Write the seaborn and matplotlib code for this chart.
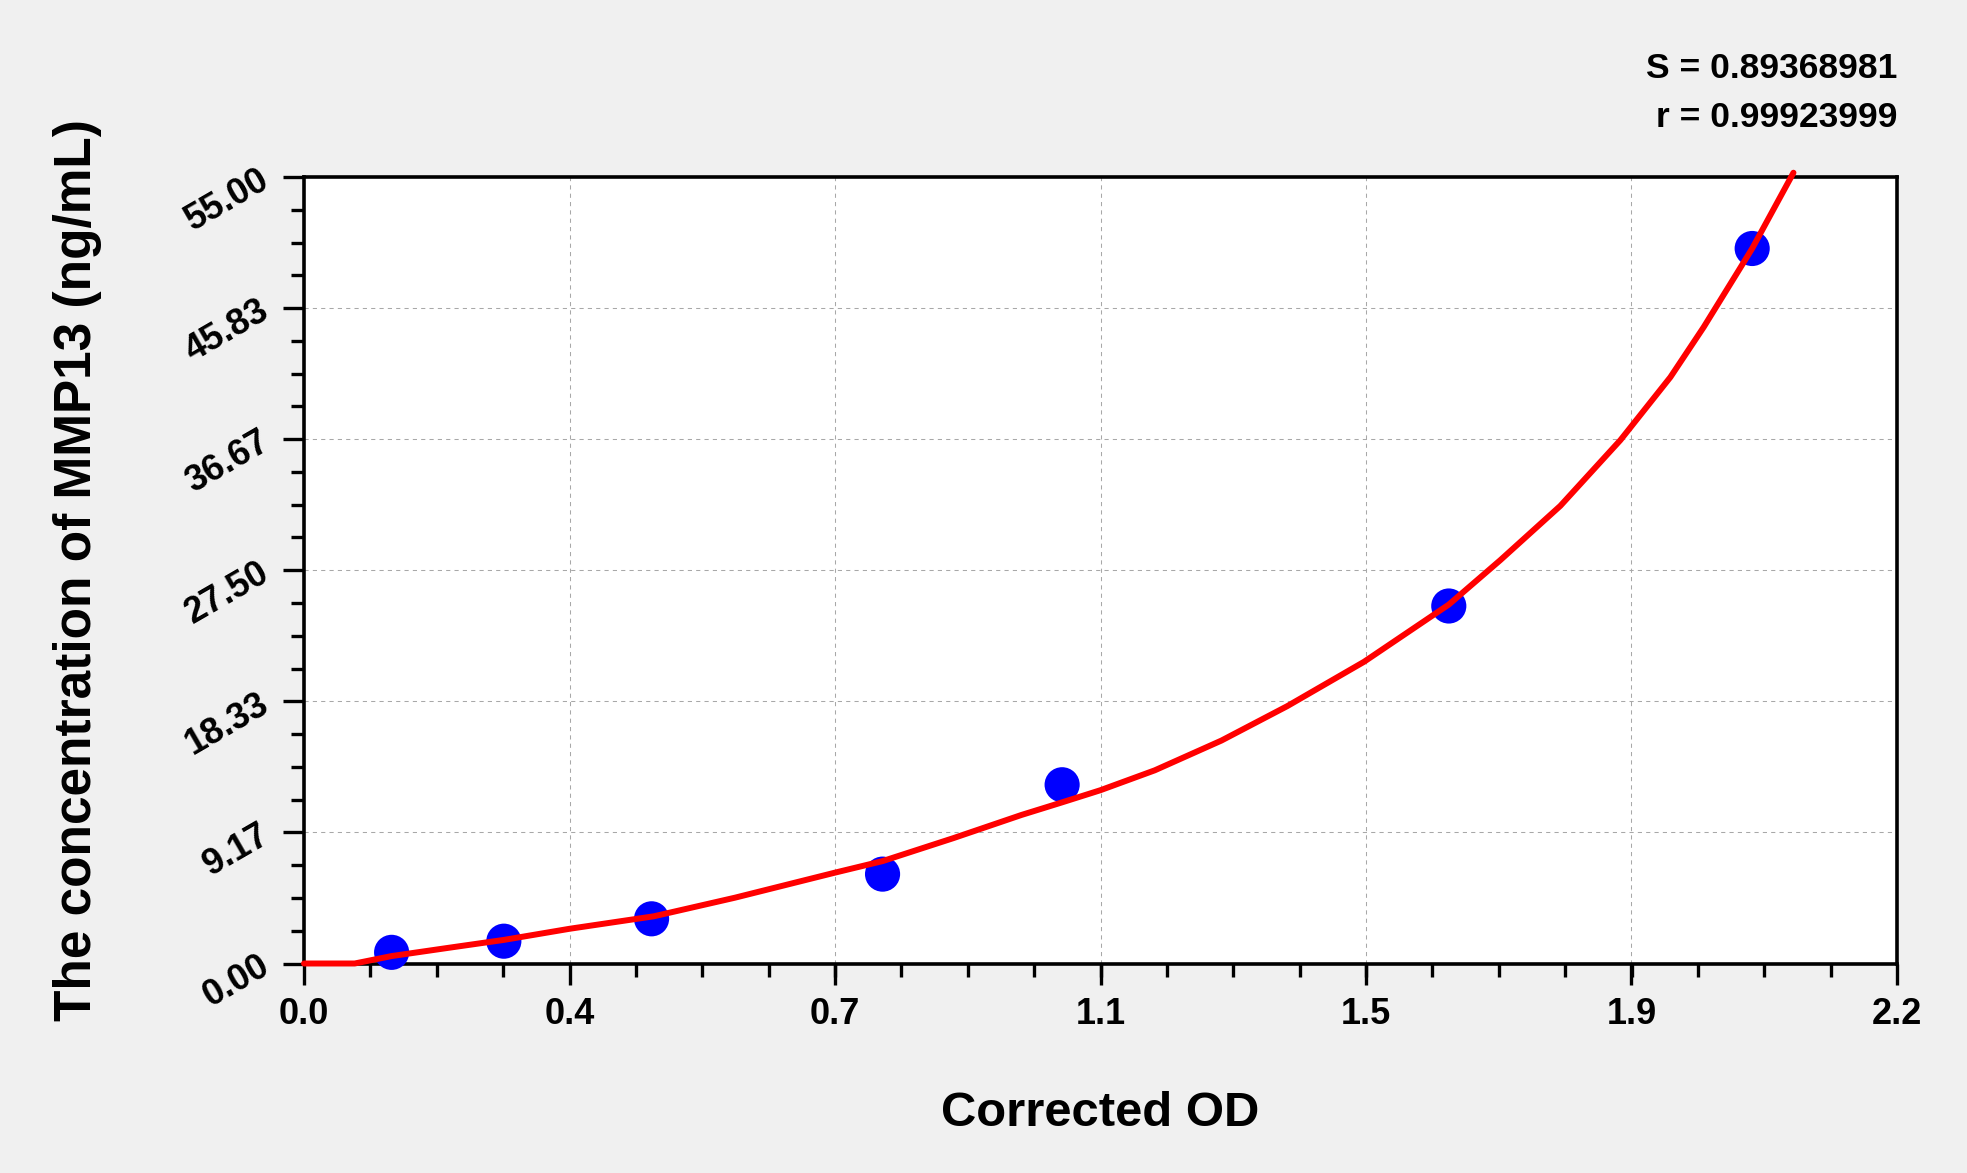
import matplotlib
matplotlib.use("Agg")
import matplotlib.pyplot as plt
import seaborn as sns
import pandas as pd
from matplotlib import font_manager as fm
from matplotlib.ticker import FixedLocator, AutoMinorLocator

# ---------------- data ----------------
od_values = [0.121, 0.276, 0.480, 0.799, 1.047, 1.581, 2.000]
concentrations = [0.78, 1.56, 3.125, 6.25, 12.5, 25.0, 50.0]

curve_od = [0.0, 0.07, 0.121, 0.20, 0.276, 0.367, 0.483, 0.595, 0.733, 0.799,
            0.897, 0.991, 1.047, 1.100, 1.175, 1.267, 1.358, 1.464, 1.581,
            1.652, 1.735, 1.818, 1.887, 1.933, 1.983, 2.000, 2.057]
curve_conc = [0.0, 0.0, 0.52, 1.10, 1.65, 2.43, 3.30, 4.60, 6.35, 7.16,
              8.77, 10.39, 11.27, 12.12, 13.51, 15.59, 18.0, 21.1, 25.1,
              28.2, 32.0, 36.6, 41.0, 44.5, 48.6, 50.0, 55.3]

x_tick_values = [0.0, 0.3667, 0.7333, 1.1, 1.4667, 1.8333, 2.2]
x_tick_labels = ["0.0", "0.4", "0.7", "1.1", "1.5", "1.9", "2.2"]
y_tick_values = [0.0, 9.1667, 18.3333, 27.5, 36.6667, 45.8333, 55.0]
y_tick_labels = ["0.00", "9.17", "18.33", "27.50", "36.67", "45.83", "55.00"]

stats_lines = ["S = 0.89368981", "r = 0.99923999"]
x_label = "Corrected OD"
y_label = "The concentration of MMP13 (ng/mL)"

# ---------------- style ----------------
sns.set_style("white")
names = {f.name for f in fm.fontManager.ttflist}
HAS_NARROW = "Liberation Sans Narrow" in names
NARROW = ["Liberation Sans Narrow", "Liberation Sans", "DejaVu Sans"] if HAS_NARROW else ["Liberation Sans", "DejaVu Sans"]
NS = 1.0 if HAS_NARROW else 0.93
REG = ["Liberation Sans", "DejaVu Sans"]
plt.rcParams["font.family"] = REG
for key in ["text.color", "axes.labelcolor", "xtick.color", "ytick.color", "axes.edgecolor"]:
    plt.rcParams[key] = "black"

W, H = 1967, 1173
fig = plt.figure(figsize=(W / 100, H / 100), dpi=100, facecolor="#F0F0F0")
left, right, top, bottom = 304, 1897, 177, 963.5
ax = fig.add_axes([left / W, 1 - bottom / H, (right - left) / W, (bottom - top) / H])
ax.set_facecolor("white")

pts = pd.DataFrame({"od": od_values, "conc": concentrations})
crv = pd.DataFrame({"od": curve_od, "conc": curve_conc})

sns.scatterplot(data=pts, x="od", y="conc", ax=ax, color="#0000FF", s=640,
                linewidth=0, edgecolor="none", zorder=3, clip_on=False)
sns.lineplot(data=crv, x="od", y="conc", ax=ax, color="#FF0000", linewidth=4.3,
             sort=False, estimator=None, zorder=4, clip_on=False)

ax.set_xlim(0, 2.2)
ax.set_ylim(0, 55)
ax.xaxis.set_major_locator(FixedLocator(x_tick_values))
ax.yaxis.set_major_locator(FixedLocator(y_tick_values))
ax.xaxis.set_minor_locator(AutoMinorLocator(4))
ax.yaxis.set_minor_locator(AutoMinorLocator(4))

tick_size = 28 * NS
ax.set_xticklabels(x_tick_labels, fontsize=tick_size, fontweight="bold",
                   family=NARROW, color="black")
ax.set_yticklabels(y_tick_labels, fontsize=tick_size, fontweight="bold",
                   family=NARROW, color="black", rotation=30,
                   rotation_mode="anchor", ha="right", va="center")

ax.tick_params(which="major", direction="out", length=15, width=2.4, color="black",
               bottom=True, left=True, top=False, right=False)
ax.tick_params(which="minor", direction="out", length=9.5, width=2.4, color="black",
               bottom=True, left=True, top=False, right=False)
ax.tick_params(axis="x", which="major", pad=9)
ax.tick_params(axis="y", which="major", pad=12)

for sp in ax.spines.values():
    sp.set_visible(True)
    sp.set_color("black")
    sp.set_linewidth(2.6)

ax.grid(True, which="major", color="#A8A8A8", linestyle=(0, (4, 4)), linewidth=0.75)
ax.set_axisbelow(True)

ax.set_xlabel(x_label, fontsize=41 * 0.86 if not HAS_NARROW else 41, fontweight="bold",
              family=NARROW, va="center", color="black")
ax.xaxis.set_label_coords(0.5, (bottom - 1113) / (bottom - top))
ax.set_ylabel(y_label, fontsize=37, fontweight="bold", family=REG, va="center",
              color="black")
ax.yaxis.set_label_coords((78 - left) / (right - left), 0.5)

stat_size = 28 if HAS_NARROW else 25.5
fig.text(right / W, 1 - 78.3 / H, stats_lines[0], ha="right", va="baseline",
         fontsize=stat_size, fontweight="bold", family=NARROW, color="black")
fig.text(right / W, 1 - 126.7 / H, stats_lines[1], ha="right", va="baseline",
         fontsize=stat_size, fontweight="bold", family=NARROW, color="black")

fig.savefig("out.png", dpi=100, facecolor=fig.get_facecolor())
